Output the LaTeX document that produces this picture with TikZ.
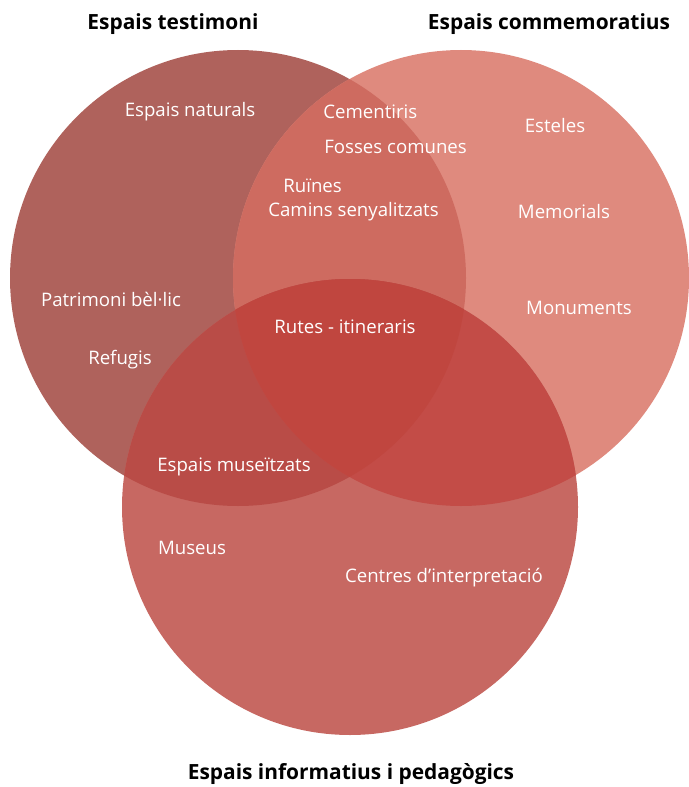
\documentclass[tikz,border=0pt]{standalone}
\usepackage{fontspec}
\setmainfont{Open Sans}
\usetikzlibrary{positioning}
\definecolor{testimoni}{HTML}{AF625C}
\definecolor{commem}{HTML}{DF8A7E}
\definecolor{inform}{HTML}{C76862}
\definecolor{testcomm}{HTML}{CE6B60}
\definecolor{testinf}{HTML}{B94C47}
\definecolor{comminf}{HTML}{C34C47}
\definecolor{totes}{HTML}{C0463F}
\tikzset{
  lbl/.style={text=white, font=\fontsize{10.6}{12}\selectfont, inner sep=0pt},
  titol/.style={text=black, font=\fontsize{11.9}{14}\selectfont\bfseries, inner sep=0pt}
}
\newcommand{\cercleT}{(238,278) circle (228)}
\newcommand{\cercleC}{(461,278) circle (228)}
\newcommand{\cercleI}{(350,507) circle (228)}

\begin{document}
\begin{tikzpicture}[x=0.02cm, y=-0.02cm]
  \useasboundingbox (0,0) rectangle (689,787);
  % cercles
  \fill[testimoni] \cercleT;
  \fill[commem] \cercleC;
  \fill[inform] \cercleI;
  \begin{scope}
    \clip \cercleT;
    \fill[testcomm] \cercleC;
    \fill[testinf] \cercleI;
  \end{scope}
  \begin{scope}
    \clip \cercleC;
    \fill[comminf] \cercleI;
  \end{scope}
  \begin{scope}
    \clip \cercleT;
    \clip \cercleC;
    \fill[totes] \cercleI;
  \end{scope}
  % titols
  \node[titol] (testimoni) at (173,24) {Espais testimoni};
  \node[titol] (commemoratius) at (549,24) {Espais commemoratius};
  \node[titol] (informatius) at (351,774) {Espais informatius i pedagògics};
  % etiquetes
  \node[lbl] (naturals) at (190,112) {Espais naturals};
  \node[lbl, anchor=west] (cementiris) at (323,112) {Cementiris};
  \node[lbl, anchor=west] (fosses) at (324,147) {Fosses comunes};
  \node[lbl, anchor=west] (ruines) at (283,186) {Ruïnes};
  \node[lbl, anchor=west] (camins) at (268,212) {Camins senyalitzats};
  \node[lbl] (esteles) at (555,126) {Esteles};
  \node[lbl] (memorials) at (564,212) {Memorials};
  \node[lbl] (monuments) at (579,308) {Monuments};
  \node[lbl] (patrimoni) at (111,299) {Patrimoni bèl·lic};
  \node[lbl] (refugis) at (120,360) {Refugis};
  \node[lbl] (rutes) at (345,327) {Rutes - itineraris};
  \node[lbl] (museitzats) at (234,467) {Espais museïtzats};
  \node[lbl] (museus) at (192,548) {Museus};
  \node[lbl] (centres) at (444,578) {Centres d’interpretació};
\end{tikzpicture}
\end{document}
